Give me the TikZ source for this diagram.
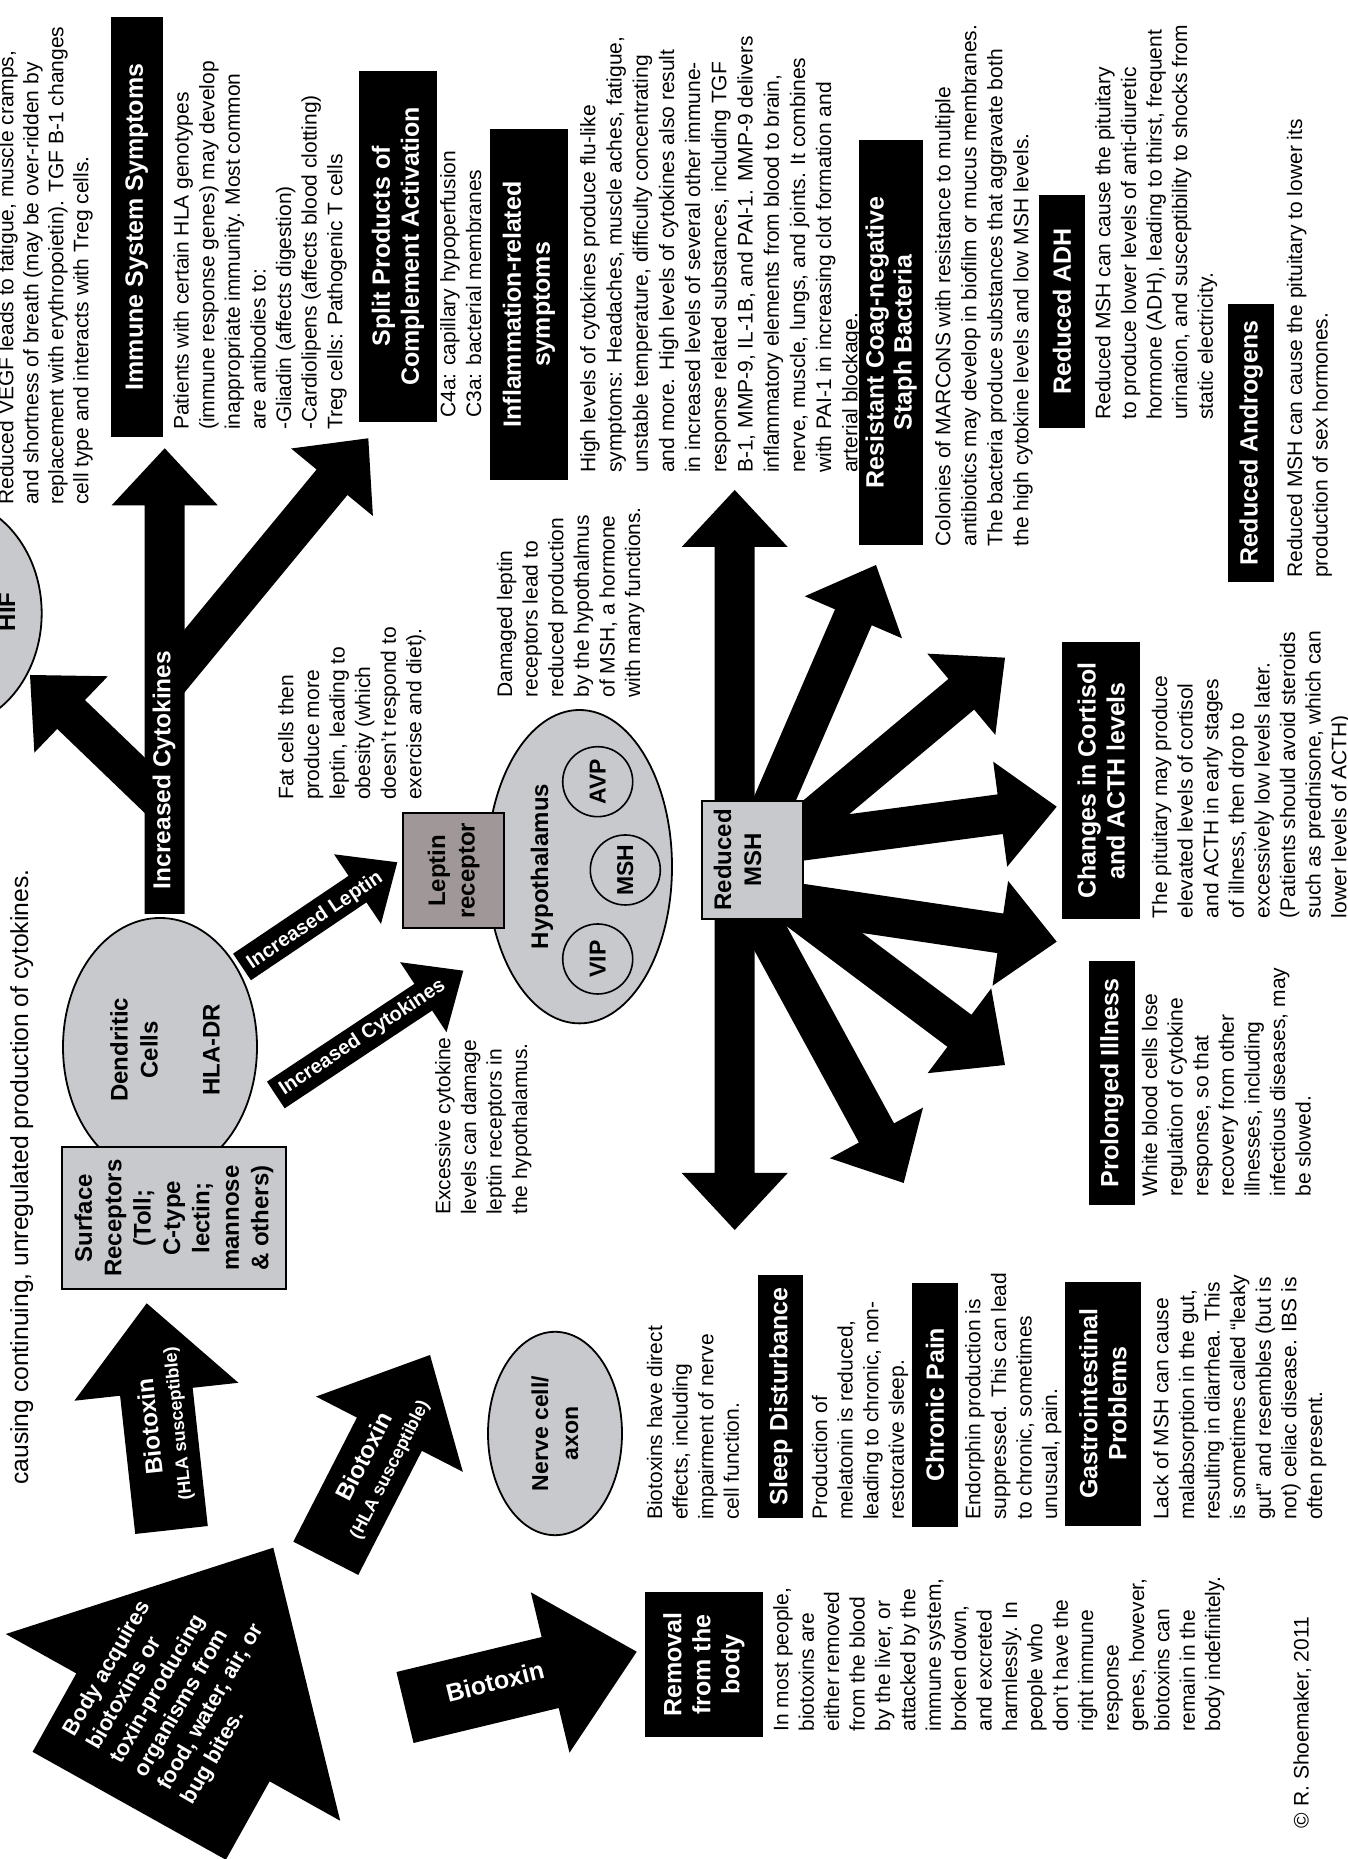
\documentclass[tikz,border=0pt]{standalone}
\usepackage{fontspec}
\setmainfont{Liberation Sans}
\usetikzlibrary{calc,shapes.geometric}
\definecolor{lgray}{RGB}{200,201,204}
\definecolor{mgray}{RGB}{160,152,152}
% block arrow: tail, tip, half shaft width, half head width, head length
\newcommand{\blockarrow}[5]{%
  \path ($(#2)!#5!(#1)$) coordinate (bhx);
  \fill[black] ($(#1)!#3!90:(#2)$) -- ($(bhx)!#3!90:(#2)$) -- ($(bhx)!#4!90:(#2)$) -- (#2)
    -- ($(bhx)!#4!-90:(#2)$) -- ($(bhx)!#3!-90:(#2)$) -- ($(#1)!#3!-90:(#2)$) -- cycle;}
\tikzset{
  body/.style={anchor=north west, inner sep=0pt, align=left, font=\fontsize{21}{25.6}\selectfont},
  hdr/.style={fill=black, text=white, inner sep=0pt, align=center, font=\bfseries\fontsize{25}{29}\selectfont},
  gbox/.style={fill=lgray, draw=black, line width=1.8pt, inner sep=0pt, align=center, font=\bfseries\fontsize{24}{29.4}\selectfont},
  gell/.style={ellipse, fill=lgray, draw=black, line width=1.8pt, inner sep=0pt, align=center, font=\bfseries\fontsize{23}{30}\selectfont},
  circ/.style={circle, draw=black, line width=1.6pt, minimum size=70pt, inner sep=0pt, font=\bfseries\fontsize{23}{28}\selectfont},
  atxt/.style={text=white, align=center, inner sep=0pt, font=\bfseries\fontsize{24}{26}\selectfont},
  ntxt/.style={inner sep=0pt, align=center, font=\bfseries\fontsize{24}{30}\selectfont}
}
\begin{document}
\begin{tikzpicture}[x=1pt,y=-1pt,rotate=90,transform shape]
\useasboundingbox (0,0) rectangle (1859,1348);
\fill[white] (0,0) rectangle (1859,1348);
\clip (0,0) rectangle (1859,1348);

% ---------- arrow end points ----------
\coordinate (bigT) at (53.2,129.2);   \coordinate (bigH) at (311.3,273.3);
\coordinate (b1T) at (329,171.5);     \coordinate (b1H) at (555.7,146.7);
\coordinate (b2T) at (300.7,325.8);   \coordinate (b2H) at (504,430);
\coordinate (b3T) at (151.5,405);     \coordinate (b3H) at (207.3,636.7);
\coordinate (lepT) at (892,242);      \coordinate (lepH) at (996.7,397.3);
\coordinate (cysT) at (764,275.8);    \coordinate (cysH) at (888.3,463.3);
\coordinate (cyvT) at (945,164.7);    \coordinate (cyvH) at (1410.7,164.7);
\coordinate (br1T) at (1054.5,164.7); \coordinate (br1H) at (1184,30);
\coordinate (br2T) at (1174,164.7);   \coordinate (br2H) at (1420.7,368.3);
\coordinate (fc) at (999,734.7);
\coordinate (fupH) at (1369,734.7);   \coordinate (fdnH) at (629,734.7);
\coordinate (fbT) at (1001.3,749.4);  \coordinate (fbH) at (1294,876);
\coordinate (fcT) at (994.8,758.3);   \coordinate (fcH) at (1201.3,1005);
\coordinate (fdT) at (1011.9,753.5);  \coordinate (fdH) at (1052.3,1056.7);
\coordinate (feT) at (962.9,749.7);   \coordinate (feH) at (917.3,1056.7);
\coordinate (fhT) at (987.8,746.6);   \coordinate (fhH) at (794,1005);
\coordinate (fgT) at (987.3,734.2);   \coordinate (fgH) at (676,903.7);

% ---------- block arrows ----------
\blockarrow{bigT}{bigH}{110.7pt}{191.5pt}{205.8pt}
\blockarrow{b1T}{b1H}{36.5pt}{82.5pt}{89pt}
\blockarrow{b2T}{b2H}{36.5pt}{82.5pt}{89pt}
\blockarrow{b3T}{b3H}{36.5pt}{82.5pt}{89pt}
\blockarrow{lepT}{lepH}{16pt}{42pt}{48pt}
\blockarrow{cysT}{cysH}{16pt}{42pt}{48pt}
\blockarrow{cyvT}{cyvH}{20pt}{53pt}{57pt}
\blockarrow{br1T}{br1H}{20pt}{53pt}{57pt}
\blockarrow{br2T}{br2H}{20pt}{53pt}{57pt}
\blockarrow{fc}{fupH}{20pt}{53pt}{57pt}
\blockarrow{fc}{fdnH}{20pt}{53pt}{57pt}
\blockarrow{fbT}{fbH}{20pt}{53pt}{57pt}
\blockarrow{fcT}{fcH}{20pt}{53pt}{57pt}
\blockarrow{fdT}{fdH}{20pt}{53pt}{57pt}
\blockarrow{feT}{feH}{20pt}{53pt}{57pt}
\blockarrow{fhT}{fhH}{20pt}{53pt}{57pt}
\blockarrow{fgT}{fgH}{20pt}{53pt}{57pt}

% ---------- grey shapes ----------
\node[gell, minimum width=230pt, minimum height=194pt] (hif) at (1245.7,-55.3) {};
\node[ntxt, anchor=base] (hifT) at (1247.3,15) {HIF};
\node[gell, minimum width=258pt, minimum height=194pt] (dc) at (812,160) {};
\node[ntxt] (dcT) at (809,165) {Dendritic\\Cells\\[32pt]HLA-DR};
\node[gbox, minimum width=142pt, minimum height=224.3pt] (sr) at (640.7,173.85)
  {Surface\\Receptors\\(Toll;\\C-type\\lectin;\\mannose\\\& others)};
\node[gell, minimum width=203.4pt, minimum height=134pt] (nc) at (425.5,555) {Nerve cell/\\axon};
\node[gell, minimum width=313.4pt, minimum height=185pt] (hyp) at (992.3,579.5) {};
\node[ntxt, anchor=base] (hypT) at (992.5,548) {Hypothalamus};
\node[circ] (vip) at (900,597.7) {VIP};
\node[circ] (mshc) at (989,625.3) {MSH};
\node[circ] (avp) at (1077.3,597.7) {AVP};
\node[gbox, fill=mgray, minimum width=115pt, minimum height=100.7pt] (lr) at (988.2,453.65) {Leptin\\receptor};
\node[gbox, minimum width=118.3pt, minimum height=101pt] (msh) at (998.85,752.8) {};
\node[ntxt] (mshT) at (999,737.5) {Reduced\\MSH};

% ---------- texts inside arrows ----------
\node[atxt, rotate=-30, align=left, font=\bfseries\fontsize{22}{27.3}\selectfont] (bigL) at (172,176)
  {Body acquires\\biotoxins or\\toxin-producing\\organisms from\\food, water, air, or\\bug bites.};
\node[atxt, rotate=6] (b1L) at (434,164) {Biotoxin\\{\fontsize{18}{26}\selectfont (HLA susceptible)}};
\node[atxt, rotate=-27] (b2L) at (396,377) {Biotoxin\\{\fontsize{18}{26}\selectfont (HLA susceptible)}};
\node[atxt, rotate=-76, font=\bfseries\fontsize{25}{28}\selectfont] (b3L) at (177.3,495) {Biotoxin};
\node[atxt, rotate=-56, font=\bfseries\fontsize{20}{24}\selectfont] (lepL) at (938.5,315) {Increased Leptin};
\node[atxt, rotate=-56.5, font=\bfseries\fontsize{20}{24}\selectfont] (cysL) at (821.5,362.5) {Increased Cytokines};
\node[atxt, font=\bfseries\fontsize{24.5}{28}\selectfont] (cyvL) at (1089,164) {Increased Cytokines};

% ---------- headers ----------
\node[hdr, minimum width=420.6pt, minimum height=51.7pt] (h1) at (1632,136.85) {Immune System Symptoms};
\node[hdr, minimum width=350.7pt, minimum height=77.7pt] (h2) at (1612.65,397.85) {Split Products of\\Complement Activation};
\node[hdr, minimum width=351pt, minimum height=77.7pt] (h3) at (1554.5,528.85) {Inflammation-related\\symptoms};
\node[hdr, minimum width=405pt, minimum height=64.3pt, font=\bfseries\fontsize{25}{28}\selectfont] (h4) at (1516.5,891.15) {Resistant Coag-negative\\Staph Bacteria};
\node[hdr, minimum width=232.7pt, minimum height=46pt] (h5) at (1547.65,1062) {Reduced ADH};
\node[hdr, minimum width=277.4pt, minimum height=45.7pt] (h6) at (1416,1251.15) {Reduced Androgens};
\node[hdr, minimum width=277pt, minimum height=77.7pt] (h7) at (1078.2,1101.15) {Changes in Cortisol\\and ACTH levels};
\node[hdr, minimum width=244pt, minimum height=46pt] (h8) at (776,1112) {Prolonged Illness};
\node[hdr, minimum width=243pt, minimum height=45pt] (h9) at (462.5,780.8) {Sleep Disturbance};
\node[hdr, minimum width=243.7pt, minimum height=46.6pt] (h10) at (454.15,935) {Chronic Pain};
\node[hdr, minimum width=244pt, minimum height=75.7pt] (h11) at (455.3,1102.85) {Gastrointestinal\\Problems};
\node[hdr, minimum width=145.6pt, minimum height=117.7pt] (h12) at (194.5,703.85) {Removal\\from the\\body};

% ---------- body texts ----------
\node[body, font=\fontsize{24.7}{29}\selectfont] (title2) at (374,10) {causing continuing, unregulated production of cytokines.};
\node[body, font=\fontsize{21}{25}\selectfont] (t1) at (1354,-2) {Reduced VEGF leads to fatigue, muscle cramps,\\and shortness of breath (may be over-ridden by\\replacement with erythropoietin). TGF B-1 changes\\cell type and interacts with Treg cells.};
\node[body] (t2) at (1429,173.3) {Patients with certain HLA genotypes\\(immune response genes) may develop\\inappropriate immunity. Most common\\are antibodies to:\\-Gliadin (affects digestion)\\-Cardiolipens (affects blood clotting)\\Treg cells: Pathogenic T cells};
\node[body] (t3) at (1441,440) {C4a: capillary hypoperfusion\\C3a: bacterial membranes};
\node[body, font=\fontsize{21}{26.2}\selectfont] (t4) at (1386,580) {High levels of cytokines produce flu-like\\symptoms: Headaches, muscle aches, fatigue,\\unstable temperature, difficulty concentrating\\and more. High levels of cytokines also result\\in increased levels of several other immune-\\response related substances, including TGF\\B-1, MMP-9, IL-1B, and PAI-1. MMP-9 delivers\\inflammatory elements from blood to brain,\\nerve, muscle, lungs, and joints. It combines\\with PAI-1 in increasing clot formation and\\arterial blockage.};
\node[body, font=\fontsize{21}{26}\selectfont] (t5) at (1312.3,935) {Colonies of MARCoNS with resistance to multiple\\antibiotics may develop in biofilm or mucus membranes.\\The bacteria produce substances that aggravate both\\the high cytokine levels and low MSH levels.};
\node[body] (t6) at (1439,1095) {Reduced MSH can cause the pituitary\\to produce lower levels of anti-diuretic\\hormone (ADH), leading to thirst, frequent\\urination, and susceptibility to shocks from\\static electricity.};
\node[body] (t7) at (1281,1286.7) {Reduced MSH can cause the pituitary to lower its\\production of sex hormones.};
\node[body] (t8) at (940.7,1151.7) {The pituitary may produce\\elevated levels of cortisol\\and ACTH in early stages\\of illness, then drop to\\excessively low levels later.\\(Patients should avoid steroids\\such as prednisone, which can\\lower levels of ACTH)};
\node[body] (t9) at (662.3,1141.7) {White blood cells lose\\regulation of cytokine\\response, so that\\recovery from other\\illnesses, including\\infectious diseases, may\\be slowed.};
\node[body] (t10) at (1059,278) {Fat cells then\\produce more\\leptin, leading to\\obesity (which\\doesn’t respond to\\exercise and diet).};
\node[body] (t11) at (1161.3,496.7) {Damaged leptin\\receptors lead to\\reduced production\\by the hypothalmus\\of MSH, a hormone\\with many functions.};
\node[body] (t12) at (644,435) {Excessive cytokine\\levels can damage\\leptin receptors in\\the hypothalamus.};
\node[body] (t13) at (339,646.7) {Biotoxins have direct\\effects, including\\impairment of nerve\\cell function.};
\node[body] (t14) at (339,811.7) {Production of\\melatonin is reduced,\\leading to chronic, non-\\restorative sleep.};
\node[body] (t15) at (339,965) {Endorphin production is\\suppressed. This can lead\\to chronic, sometimes\\unusual, pain.};
\node[body] (t16) at (339,1153) {Lack of MSH can cause\\malabsorption in the gut,\\resulting in diarrhea. This\\is sometimes called “leaky\\gut” and resembles (but is\\not) celiac disease. IBS is\\often present.};
\node[body, font=\fontsize{21}{25.4}\selectfont] (t17) at (127.3,773) {In most people,\\biotoxins are\\either removed\\from the blood\\by the liver, or\\attacked by the\\immune system,\\broken down,\\and excreted\\harmlessly. In\\people who\\don’t have the\\right immune\\response\\genes, however,\\biotoxins can\\remain in the\\body indefinitely.};
\node[body] (copy) at (30.7,1293.3) {© R. Shoemaker, 2011};
\end{tikzpicture}
\end{document}
